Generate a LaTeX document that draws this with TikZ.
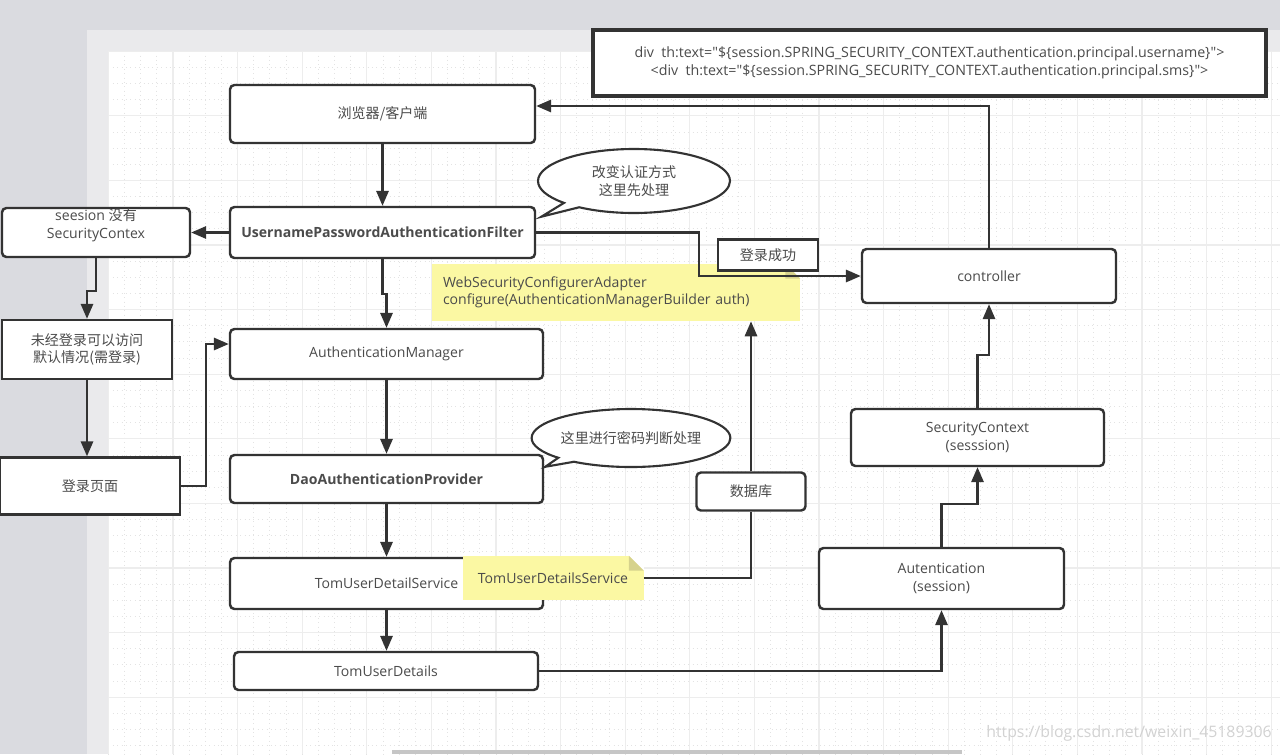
\documentclass[tikz,border=0pt]{standalone}
\usepackage{fontspec}
\setmainfont{Open Sans}
\newfontfamily\codefont{Open Sans}
\newfontfamily\cjk{Noto Sans CJK SC}
\usetikzlibrary{arrows.meta,calc,shapes.callouts}
\definecolor{bgout}{RGB}{218,219,224}
\definecolor{strip}{RGB}{234,234,236}
\definecolor{ln}{RGB}{51,51,51}
\definecolor{txt}{RGB}{75,75,75}
\definecolor{notey}{RGB}{251,248,163}
\definecolor{fold}{RGB}{214,210,140}
\begin{document}
\begin{tikzpicture}[x=0.02cm,y=-0.02cm,
  wh/.style 2 args={minimum width=#1*0.02cm,minimum height=#2*0.02cm},
  box/.style={draw=ln,line width=1.4pt,rounded corners=2.5pt,fill=white,text=txt,
    font=\fontsize{8}{10}\selectfont,align=center,inner sep=0pt},
  sbox/.style={box,rounded corners=0pt},
  lbl/.style={text=txt,font=\fontsize{8}{10}\selectfont,align=center,inner sep=0pt},
  notebox/.style={fill=notey,text=txt,font=\fontsize{8}{10}\selectfont,inner sep=0pt},
  bubble/.style={ellipse callout,draw=ln,line width=1.2pt,fill=white,text=txt,
    font=\fontsize{8}{10}\selectfont,align=center,inner sep=0pt,callout pointer arc=12},
  conn/.style={draw=ln,line width=1.2pt},
  arr/.style={conn,-{Triangle[length=8.5pt,width=7pt]}},
  minor/.style={draw=gray!22,line width=0.5pt,dotted},
  major/.style={draw=gray!14,line width=0.6pt}]
\useasboundingbox (0,0) rectangle (1280,754);
% background and canvas
\fill[bgout] (0,0) rectangle (1280,754);
\fill[strip] (87,30) rectangle (1280,754);
\fill[white] (108.4,51.2) rectangle (1280,754);
\foreach \i in {0,...,72} {\draw[minor] ({108.4+\i*16.15},51.2) -- ({108.4+\i*16.15},754);}
\foreach \j in {0,...,43} {\draw[minor] (108.4,{51.2+\j*16.15}) -- (1280,{51.2+\j*16.15});}
\foreach \i in {0,...,18} {\draw[major] ({108.4+\i*64.6},51.2) -- ({108.4+\i*64.6},754);}
\foreach \j in {0,...,10} {\draw[major] (108.4,{51.2+\j*64.6}) -- (1280,{51.2+\j*64.6});}
\fill[gray!45] (392,750) rectangle (962,754);
\node[anchor=east,text=gray!35,font=\fontsize{9}{11}\selectfont,inner sep=0pt] (wm) at (1272,733) {https://blog.csdn.net/weixin\_45189306};

% top code box
\node[sbox,line width=1.8pt,wh={673}{66},font=\codefont\fontsize{8.1}{10.2}\selectfont] (code) at (929.5,63)
  {div\ \ th:text="\$\{session.SPRING\_SECURITY\_CONTEXT.authentication.principal.username\}">\\
   <div\ \ th:text="\$\{session.SPRING\_SECURITY\_CONTEXT.authentication.principal.sms\}">};

% main column
\node[box,wh={305}{58}] (browser) at (382.5,114) {\cjk 浏览器/客户端};
\node[box,wh={305}{51},font=\fontsize{8}{10}\selectfont\bfseries] (filter) at (382.5,232.5) {UsernamePasswordAuthenticationFilter};
\node[box,wh={313}{50}] (authmgr) at (386.5,354) {AuthenticationManager};
\node[box,wh={313}{48},font=\fontsize{8}{10}\selectfont\bfseries] (dao) at (386.5,479) {DaoAuthenticationProvider};
\node[box,wh={313}{51}] (tomuds) at (386.5,583.5) {TomUserDetailService};
\node[box,wh={304}{38}] (tomud) at (386,671) {TomUserDetails};

% left column
\node[box,wh={188}{49}] (seesion) at (96,232.5) {};
\node[lbl] (seesiontxt) at (96,225) {seesion {\cjk 没有}\\SecurityContex};
\node[sbox,wh={170}{59}] (weilogin) at (87,349.5) {\cjk 未经登录可以访问\\\cjk 默认情况(需登录)};
\node[sbox,wh={180}{57}] (loginpage) at (90,486) {\cjk 登录页面};

% notes
\node[notebox,wh={368}{57},text width=346*0.02cm,inner xsep=11*0.02cm,align=left] (note1) at (616,292.5)
  {WebSecurityConfigurerAdapter\\configure(AuthenticationManagerBuilder auth)};
\fill[white] ($(note1.north east)+(-15,0)$) -- (note1.north east) -- ++(0,15) -- cycle;
\fill[fold] ($(note1.north east)+(-15,0)$) -- ++(0,15) -- ++(15,0) -- cycle;

% right column
\node[box,wh={254}{54}] (controller) at (989,276) {controller};
\node[box,wh={253}{57}] (secctx) at (977.5,437.5) {SecurityContext\\(sesssion)};
\node[box,wh={245}{61}] (autent) at (941.5,578.5) {Autentication\\(session)};
\node[box,wh={109}{38}] (db) at (751,491.5) {\cjk 数据库};
\node[sbox,wh={100}{31}] (loginok) at (768,255) {\cjk 登录成功};

\node[notebox,wh={181}{44}] (note2) at (553,578) {TomUserDetailsService};
\fill[white] ($(note2.north east)+(-15,0)$) -- (note2.north east) -- ++(0,15) -- cycle;
\fill[fold] ($(note2.north east)+(-15,0)$) -- ++(0,15) -- ++(15,0) -- cycle;

% callouts
\node[bubble,wh={192}{64},callout absolute pointer={($(filter.north east)+(5,11)$)}] (c1) at (634,181)
  {{\cjk 改变认证方式}\\{\cjk 这里先处理}};
\node[bubble,wh={177}{58},callout absolute pointer={($(dao.north east)+(1,13)$)}] (c2) at (631,438)
  {\cjk 这里进行密码判断处理};

% connectors
\draw[arr] (browser.south) -- (filter.north);
\draw[arr] (filter.west) -- (seesion.east);
\draw[arr] (seesion.south) -- ++(0,33) -| (weilogin.north);
\draw[arr] (weilogin.south) -- (weilogin.south |- loginpage.north);
\draw[arr] (loginpage.east) -- ++(25,0) |- ($(authmgr.west)+(0,-10)$);
\draw[arr] (filter.south) -- ++(0,35) -| (authmgr.north);
\draw[arr] (authmgr.south) -- (dao.north);
\draw[arr] (dao.south) -- (tomuds.north);
\draw[arr] (tomuds.south) -- (tomuds.south |- tomud.north);
\draw[arr] (tomud.east) -| (autent.south);
\draw[arr] (autent.north) -- ++(0,-43) -| (secctx.south);
\draw[arr] (secctx.north) -- ++(0,-53) -| (controller.south);
\draw[arr] (controller.north) |- ($(browser.east)+(0,-8)$);
\draw[arr] (filter.east) -- ++(163,0) |- (controller.west);
\draw[conn] (note2.east) -| (db.south);
\draw[arr] (db.north) -- (db.north |- note1.south);
\end{tikzpicture}
\end{document}
